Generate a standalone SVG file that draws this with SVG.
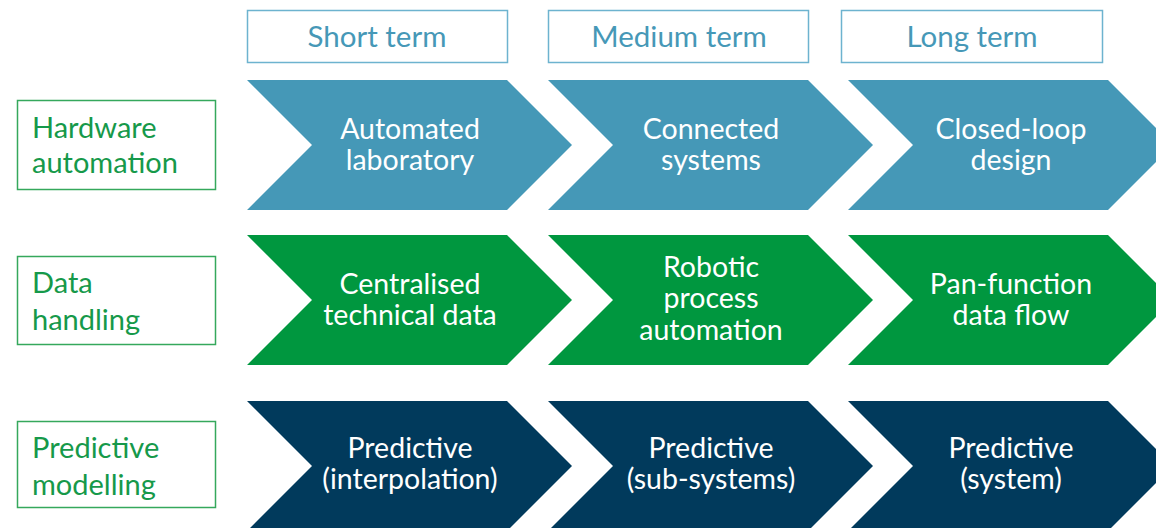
<svg xmlns="http://www.w3.org/2000/svg" width="1156" height="528" viewBox="0 0 1156 528">
<style>
.hdr rect{fill:#fff;stroke:#6db3cf;stroke-width:1.5}
.hdr text{font-family:Lato,"Open Sans",sans-serif;font-size:29.5px;fill:#4698b7;text-anchor:middle}
.lbl rect{fill:#fff;stroke:#35a85c;stroke-width:1.5}
.lbl text{font-family:Lato,"Open Sans",sans-serif;font-size:29px;fill:#16994a}
.chev text{font-family:Lato,"Open Sans",sans-serif;font-size:28.5px;fill:#fff;text-anchor:middle}
.r1 polygon{fill:#4598b7}
.r2 polygon{fill:#00973f}
.r3 polygon{fill:#013a5c}
</style>
<rect width="1156" height="528" fill="#fff"/>
<g id="hdr-short" class="hdr"><rect x="247.5" y="10.5" width="260" height="52"/><text x="377" y="47">Short term</text></g>
<g id="hdr-medium" class="hdr"><rect x="548.5" y="10.5" width="260" height="52"/><text x="679" y="47">Medium term</text></g>
<g id="hdr-long" class="hdr"><rect x="841.5" y="10.5" width="261" height="52"/><text x="972" y="47">Long term</text></g>

<g id="lbl-hardware" class="lbl"><rect x="17.5" y="100.5" width="198" height="89"/><text x="32" y="138">Hardware</text><text x="32" y="173">automation</text></g>
<g id="lbl-data" class="lbl"><rect x="17.5" y="256.5" width="198" height="88"/><text x="32" y="293">Data</text><text x="32" y="330">handling</text></g>
<g id="lbl-predictive" class="lbl"><rect x="17.5" y="421.5" width="198" height="86"/><text x="32" y="458">Predictive</text><text x="32" y="495">modelling</text></g>

<g class="chev r1">
<g id="c11"><polygon points="247,80 507,80 572,145 507,210 247,210 312,145"/><text x="410" y="139">Automated</text><text x="410" y="170">laboratory</text></g>
<g id="c12"><polygon points="548,80 808,80 873,145 808,210 548,210 613,145"/><text x="711" y="139">Connected</text><text x="711" y="170">systems</text></g>
<g id="c13"><polygon points="848,80 1108,80 1173,145 1108,210 848,210 913,145"/><text x="1011" y="139">Closed-loop</text><text x="1011" y="170">design</text></g>
</g>
<g class="chev r2">
<g id="c21"><polygon points="247,235 507,235 572,300 507,365 247,365 312,300"/><text x="410" y="294">Centralised</text><text x="410" y="325">technical data</text></g>
<g id="c22"><polygon points="548,235 808,235 873,300 808,365 548,365 613,300"/><text x="711" y="277">Robotic</text><text x="711" y="308">process</text><text x="711" y="340">automation</text></g>
<g id="c23"><polygon points="848,235 1108,235 1173,300 1108,365 848,365 913,300"/><text x="1011" y="294">Pan-function</text><text x="1011" y="325">data flow</text></g>
</g>
<g class="chev r3">
<g id="c31"><polygon points="247,401 507,401 572,466 507,531 247,531 312,466"/><text x="410" y="458">Predictive</text><text x="410" y="489">(interpolation)</text></g>
<g id="c32"><polygon points="548,401 808,401 873,466 808,531 548,531 613,466"/><text x="711" y="458">Predictive</text><text x="711" y="489">(sub-systems)</text></g>
<g id="c33"><polygon points="848,401 1108,401 1173,466 1108,531 848,531 913,466"/><text x="1011" y="458">Predictive</text><text x="1011" y="489">(system)</text></g>
</g>
<g id="connectors"/>
</svg>
